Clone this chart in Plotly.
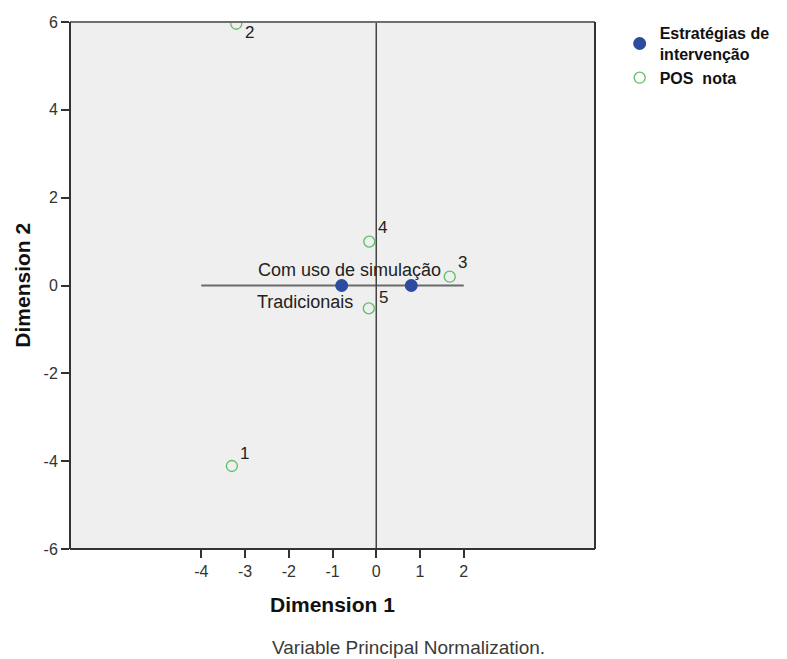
import plotly.graph_objects as go

# Category points for the intervention strategies
strategy_labels = ["Tradicionais", "Com uso de simulação"]
strategy_dim1 = [-0.79, 0.80]
strategy_dim2 = [0.0, 0.0]

# Category points for POS nota
nota_labels = ["1", "2", "3", "4", "5"]
nota_dim1 = [-3.30, -3.20, 1.68, -0.16, -0.17]
nota_dim2 = [-4.11, 5.96, 0.20, 1.00, -0.52]

x_ticks = [-4, -3, -2, -1, 0, 1, 2]
y_ticks = [-6, -4, -2, 0, 2, 4, 6]

X_RANGE = [-7, 5]
Y_RANGE = [-6, 6]

FONT = "Arial, Liberation Sans, sans-serif"
BLUE = "#2d4b9f"
GREEN = "#5cbf62"

fig = go.Figure()

# reference axes through the origin
fig.add_trace(go.Scatter(
    x=[min(x_ticks), max(x_ticks)], y=[0, 0], mode="lines",
    line=dict(color="#6a6a6a", width=2), showlegend=False, hoverinfo="skip"))
fig.add_trace(go.Scatter(
    x=[0, 0], y=Y_RANGE, mode="lines",
    line=dict(color="#444444", width=1.5), showlegend=False, hoverinfo="skip"))

fig.add_trace(go.Scatter(
    x=strategy_dim1, y=strategy_dim2, mode="markers",
    name="Estratégias de<br>intervenção",
    marker=dict(color=BLUE, size=13, line=dict(width=0)),
))
fig.add_trace(go.Scatter(
    x=nota_dim1, y=nota_dim2, mode="markers",
    name="POS  nota",
    marker=dict(symbol="circle-open", color=GREEN, size=11, line=dict(width=1.3)),
))

# point labels
label_font = dict(family=FONT, size=18, color="#222222")
num_font = dict(family=FONT, size=17, color="#222222")
nota_shift = [(13, 13), (13, -9), (13, 14), (13, 14), (15, 11)]
for lab, x, y, (dx, dy) in zip(nota_labels, nota_dim1, nota_dim2, nota_shift):
    fig.add_annotation(x=x, y=y, text=lab, showarrow=False, xshift=dx, yshift=dy,
                       font=num_font)

strategy_shift = [(13, -16), (32, 16)]
for lab, x, y, (dx, dy) in zip(strategy_labels, strategy_dim1, strategy_dim2, strategy_shift):
    fig.add_annotation(x=x, y=y, text=lab, showarrow=False, xanchor="right",
                       xshift=dx, yshift=dy, font=label_font)

# axis titles and footnote
fig.add_annotation(xref="paper", yref="paper", x=0.5, y=-0.106, yanchor="middle",
                   text="<b>Dimension 1</b>", showarrow=False,
                   font=dict(family=FONT, size=21, color="#111111"))
fig.add_annotation(xref="paper", yref="paper", x=-0.091, y=0.5, xanchor="center",
                   yanchor="middle", text="<b>Dimension 2</b>", textangle=-90,
                   showarrow=False, font=dict(family=FONT, size=21, color="#111111"))
fig.add_annotation(xref="paper", yref="paper", x=0.645, y=-0.186, yanchor="middle",
                   text="Variable Principal Normalization.", showarrow=False,
                   font=dict(family=FONT, size=19, color="#3a3a3a"))

# plot frame
frame = [
    (0, 1, 1, 1, "#6e6e6e"),
    (0, 0, 1, 0, "#333333"),
    (0, 0, 0, 1, "#333333"),
    (1, 0, 1, 1, "#333333"),
]
for x0, y0, x1, y1, c in frame:
    fig.add_shape(type="line", xref="paper", yref="paper", x0=x0, y0=y0, x1=x1, y1=y1,
                  line=dict(color=c, width=2))

tick_font = dict(family=FONT, size=16, color="#333333")
fig.update_xaxes(range=X_RANGE, tickvals=x_ticks, ticktext=[str(v) for v in x_ticks],
                 ticks="outside", ticklen=8, tickcolor="#333333", tickwidth=2,
                 showgrid=False, zeroline=False, showline=False, tickfont=tick_font)
fig.update_yaxes(range=Y_RANGE, tickvals=y_ticks, ticktext=[str(v) for v in y_ticks],
                 ticks="outside", ticklen=8, tickcolor="#333333", tickwidth=2,
                 showgrid=False, zeroline=False, showline=False, tickfont=tick_font)

fig.update_layout(
    width=787, height=659,
    margin=dict(l=70, r=189, t=22, b=110),
    paper_bgcolor="white", plot_bgcolor="#efefef",
    font=dict(family=FONT),
    legend=dict(x=1.047, y=1.011, xanchor="left", yanchor="top",
                font=dict(family=FONT, size=16, color="#111111", weight="bold"),
                bgcolor="rgba(0,0,0,0)", tracegroupgap=0, itemwidth=30),
)

fig.write_html("out.html")
